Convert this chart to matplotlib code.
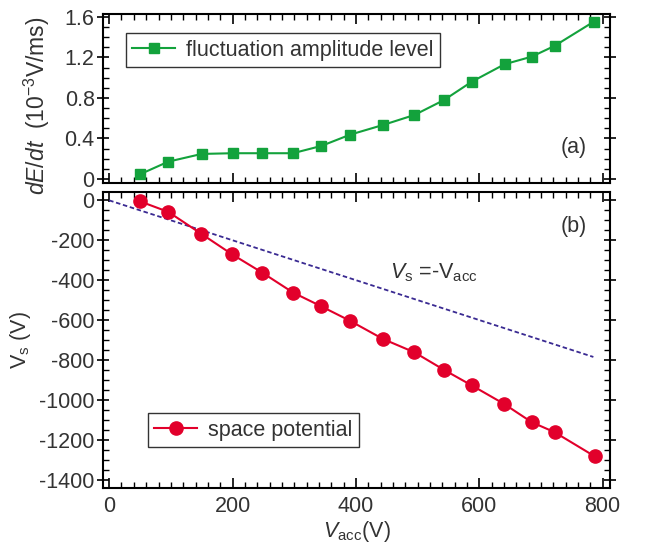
import matplotlib
matplotlib.use("Agg")
import matplotlib.pyplot as plt
from matplotlib.ticker import MultipleLocator

plt.rcParams['font.family'] = ['Liberation Sans', 'DejaVu Sans']
plt.rcParams['mathtext.fontset'] = 'custom'
plt.rcParams['mathtext.rm'] = 'Liberation Sans'
plt.rcParams['mathtext.it'] = 'Liberation Sans:italic'
plt.rcParams['axes.unicode_minus'] = False

# Data
vacc_a = [50, 96, 150, 200, 248, 298, 344, 391, 444, 495, 543, 588, 641, 685, 722, 786]
dEdt = [0.046, 0.171, 0.247, 0.254, 0.254, 0.254, 0.326, 0.438, 0.533, 0.632,
        0.78, 0.961, 1.133, 1.208, 1.314, 1.555]
vacc_b = [50, 96, 149, 199, 248, 298, 343, 390, 444, 495, 543, 588, 640, 685, 722, 787]
vs = [-5, -58, -167, -270, -362, -462, -530, -603, -695, -762, -850, -928,
      -1020, -1112, -1162, -1283]
ref_x = [0, 785]
ref_y = [0, -785]

txt = '#333333'
green = '#13a23c'
red = '#e2002b'
blue = '#3a2a92'
fs = 15.5

fig = plt.figure(figsize=(6.64, 5.56), dpi=100)
ax1 = fig.add_axes([0.1551, 0.6709, 0.7636, 0.3040])
ax2 = fig.add_axes([0.1551, 0.1223, 0.7636, 0.5324])

ax1.plot(vacc_a, dEdt, color=green, marker='s', markersize=7, lw=1.5,
         label='fluctuation amplitude level')
ax1.set_xlim(-10, 812)
ax1.set_ylim(-0.04, 1.63)
ax1.yaxis.set_minor_locator(MultipleLocator(0.1))
ax1.set_yticks([0, 0.4, 0.8, 1.2, 1.6])
ax1.set_yticklabels(['0', '0.4', '0.8', '1.2', '1.6'])
ax1.set_ylabel(r'$\it{dE/dt}$  (10$^{-3}$V/ms)', fontsize=16.5, color=txt)
ax1.yaxis.set_label_coords(-0.10, 0.46)
ax1.text(0.955, 0.21, '(a)', transform=ax1.transAxes, ha='right', va='center',
         fontsize=fs, color=txt)
leg1 = ax1.legend(loc='upper left', bbox_to_anchor=(0.045, 0.885), fontsize=fs,
                  frameon=True, fancybox=False, edgecolor='black',
                  handlelength=2.0, borderpad=0.3, handletextpad=0.5,
                  borderaxespad=0)
leg1.get_frame().set_linewidth(1.0)
for t in leg1.get_texts():
    t.set_color(txt)

ax2.plot(ref_x, ref_y, color=blue, lw=1.3, ls=(0, (2.5, 1.5)))
ax2.plot(vacc_b, vs, color=red, marker='o', markersize=9.5, lw=1.5,
         label='space potential')
ax2.set_xlim(-10, 812)
ax2.set_ylim(-1442, 42)
ax2.yaxis.set_major_locator(MultipleLocator(200))
ax2.yaxis.set_minor_locator(MultipleLocator(50))
ax2.set_ylabel(r'V$_{\rm s}$ (V)', fontsize=fs, color=txt)
ax2.yaxis.set_label_coords(-0.138, 0.5)
ax2.set_xlabel(r'$\it{V}$$_{\rm acc}$(V)', fontsize=fs, color=txt, labelpad=1)
ax2.text(0.955, 0.882, '(b)', transform=ax2.transAxes, ha='right', va='center',
         fontsize=fs, color=txt)
ax2.text(455, -365, r'$\it{V}$$_{\rm s}$ =-V$_{\rm acc}$', fontsize=fs, color=txt,
         ha='left', va='center')
leg2 = ax2.legend(loc='lower left', bbox_to_anchor=(0.088, 0.138), fontsize=fs,
                  frameon=True, fancybox=False, edgecolor='black',
                  handlelength=2.0, borderpad=0.3, handletextpad=0.5,
                  borderaxespad=0)
leg2.get_frame().set_linewidth(1.0)
for t in leg2.get_texts():
    t.set_color(txt)

for ax in (ax1, ax2):
    ax.xaxis.set_major_locator(MultipleLocator(200))
    ax.xaxis.set_minor_locator(MultipleLocator(20))
    ax.tick_params(which='major', direction='inout', length=8, width=1.2,
                   top=True, right=True, labelsize=fs, labelcolor=txt, color='black')
    ax.tick_params(axis='x', which='major', direction='in', length=7)
    ax.tick_params(which='minor', direction='in', length=4, width=1.0,
                   top=True, right=True)
    for s in ax.spines.values():
        s.set_linewidth(1.5)
ax1.tick_params(labelbottom=False)
ax1.tick_params(axis='y', pad=2)
ax2.tick_params(axis='y', pad=2)
ax2.tick_params(axis='x', pad=6)

fig.savefig('out.png', dpi=100)
